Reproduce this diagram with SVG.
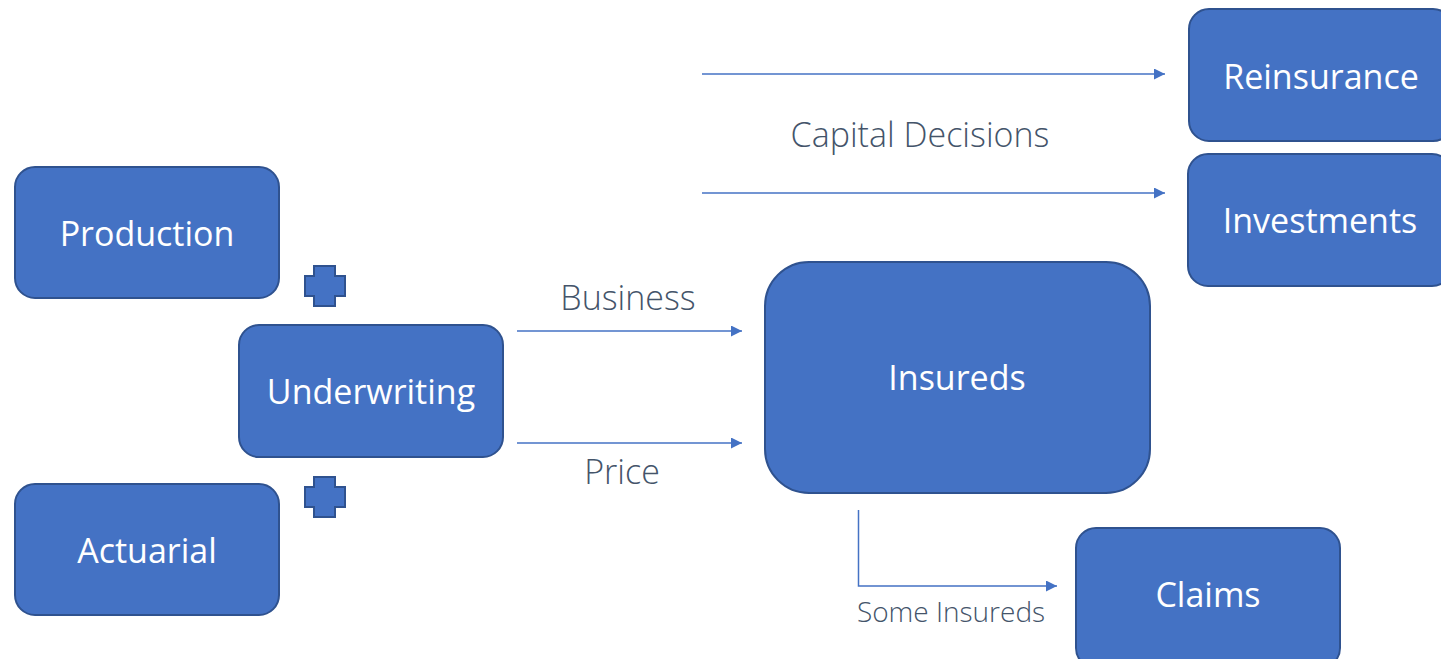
<svg xmlns="http://www.w3.org/2000/svg" width="1441" height="659" viewBox="0 0 1441 659">
  <style>
    .box { fill: #4472c4; stroke: #2f528f; stroke-width: 2; }
    .plus { fill: #4472c4; stroke: #2f528f; stroke-width: 2; stroke-linejoin: miter; }
    .lbl { font-family: "Open Sans", "Liberation Sans", sans-serif; font-size: 34px; fill: #ffffff; text-anchor: middle; }
    .cap { font-family: "Open Sans", "Liberation Sans", sans-serif; font-weight: 300; font-size: 34px; fill: #44546a; text-anchor: middle; }
    .small { font-size: 28px; }
    .conn { fill: none; stroke: #4472c4; stroke-width: 1.5; }
  </style>
  <defs>
    <marker id="arrow" viewBox="0 0 10 10" refX="10" refY="5" markerWidth="12" markerHeight="11" markerUnits="userSpaceOnUse" orient="auto">
      <path d="M0,0 L10,5 L0,10 Z" fill="#4472c4"/>
    </marker>
  </defs>
  <rect width="1441" height="659" fill="#ffffff"/>

  <!-- connectors -->
  <g id="connectors">
    <line class="conn" x1="702" y1="74" x2="1165" y2="74" marker-end="url(#arrow)"/>
    <line class="conn" x1="702" y1="193" x2="1165" y2="193" marker-end="url(#arrow)"/>
    <line class="conn" x1="517" y1="331" x2="742" y2="331" marker-end="url(#arrow)"/>
    <line class="conn" x1="517" y1="443" x2="742" y2="443" marker-end="url(#arrow)"/>
    <polyline class="conn" points="858.5,510 858.5,586 1057,586" marker-end="url(#arrow)"/>
    <text class="cap" x="920" y="147">Capital Decisions</text>
    <text class="cap" x="628" y="310">Business</text>
    <text class="cap" x="622" y="484">Price</text>
    <text class="cap small" x="951" y="622">Some Insureds</text>
  </g>

  <g id="production">
    <rect class="box" x="15" y="167" width="264" height="131" rx="20"/>
    <text class="lbl" x="147" y="246">Production</text>
  </g>
  <g id="plus-top">
    <path class="plus" d="M314,266 H335 V276 H345 V296 H335 V306 H314 V296 H305 V276 H314 Z"/>
  </g>
  <g id="underwriting">
    <rect class="box" x="239" y="325" width="264" height="132" rx="20"/>
    <text class="lbl" x="371" y="404">Underwriting</text>
  </g>
  <g id="plus-bottom">
    <path class="plus" d="M314,477 H335 V487 H345 V507 H335 V517 H314 V507 H305 V487 H314 Z"/>
  </g>
  <g id="actuarial">
    <rect class="box" x="15" y="484" width="264" height="131" rx="20"/>
    <text class="lbl" x="147" y="563">Actuarial</text>
  </g>
  <g id="insureds">
    <rect class="box" x="765" y="262" width="385" height="231" rx="44"/>
    <text class="lbl" x="957" y="390">Insureds</text>
  </g>
  <g id="reinsurance">
    <rect class="box" x="1189" y="9" width="264" height="132" rx="20"/>
    <text class="lbl" x="1321" y="89">Reinsurance</text>
  </g>
  <g id="investments">
    <rect class="box" x="1188" y="154" width="264" height="132" rx="20"/>
    <text class="lbl" x="1320" y="233">Investments</text>
  </g>
  <g id="claims">
    <rect class="box" x="1076" y="528" width="264" height="140" rx="20"/>
    <text class="lbl" x="1208" y="607">Claims</text>
  </g>
</svg>
